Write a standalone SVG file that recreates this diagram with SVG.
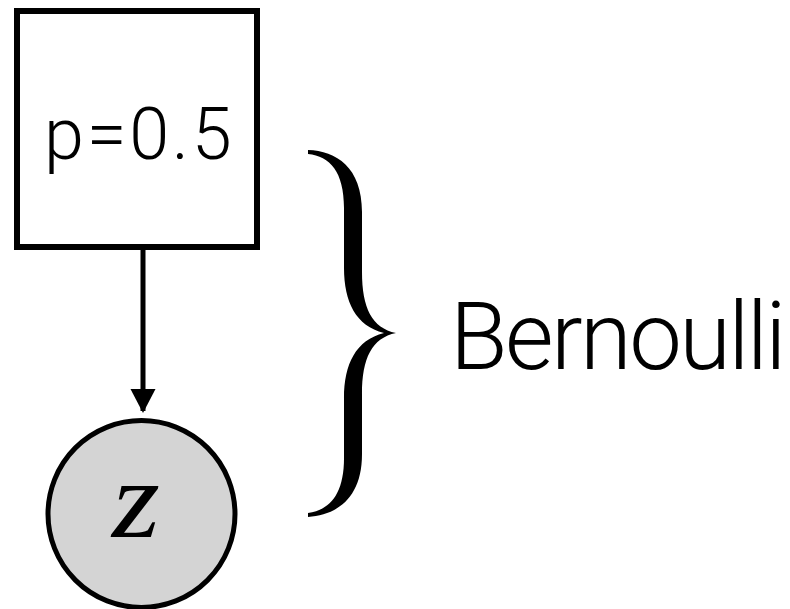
<svg xmlns="http://www.w3.org/2000/svg" width="790" height="609" viewBox="0 0 790 609">
  <style>
    .label { font-family: "Roboto", "Lato", "Liberation Sans", sans-serif; font-weight: 300; fill: #000; }
    .var { font-family: "Liberation Serif", serif; font-style: italic; fill: #000; }
    .edge { stroke: #000; stroke-width: 5; fill: none; }
  </style>
  <defs>
    <marker id="arrowhead" markerUnits="userSpaceOnUse" markerWidth="26" markerHeight="26" viewBox="0 0 26 26" refX="22" refY="13" orient="auto">
      <path d="M0,0.5 L24,13 L0,25.5 Z" fill="#000"/>
    </marker>
  </defs>
  <rect width="790" height="609" fill="#fff"/>

  <g id="param">
    <rect x="17" y="11" width="240" height="236" fill="#fff" stroke="#000" stroke-width="6"/>
    <text class="label" x="44" y="159" font-size="72" letter-spacing="2.7">p=0.5</text>
  </g>

  <g id="connectors">
    <line class="edge" x1="143" y1="250" x2="143" y2="411" marker-end="url(#arrowhead)"/>
  </g>

  <g id="z">
    <circle cx="141.5" cy="514" r="93.5" fill="#d4d4d4" stroke="#000" stroke-width="5"/>
    <text class="var" x="112" y="537" font-size="110" textLength="48" lengthAdjust="spacingAndGlyphs">z</text>
  </g>

  <g id="brace">
    <path fill="#000" d="M308,150
      C336,151 362,167 362,212
      L362,272
      C362,308 372,328 396,333
      C372,338 362,358 362,394
      L362,454
      C362,499 336,515 308,517
      L308,513
      C330,510 344,494 344,458
      L344,398
      C344,364 356,340 384,333
      C356,326 344,302 344,268
      L344,208
      C344,172 330,156 308,154 Z"/>
  </g>

  <g id="family">
    <text class="label" x="450" y="369" font-size="94" letter-spacing="-2.6">Bernoulli</text>
  </g>
</svg>
